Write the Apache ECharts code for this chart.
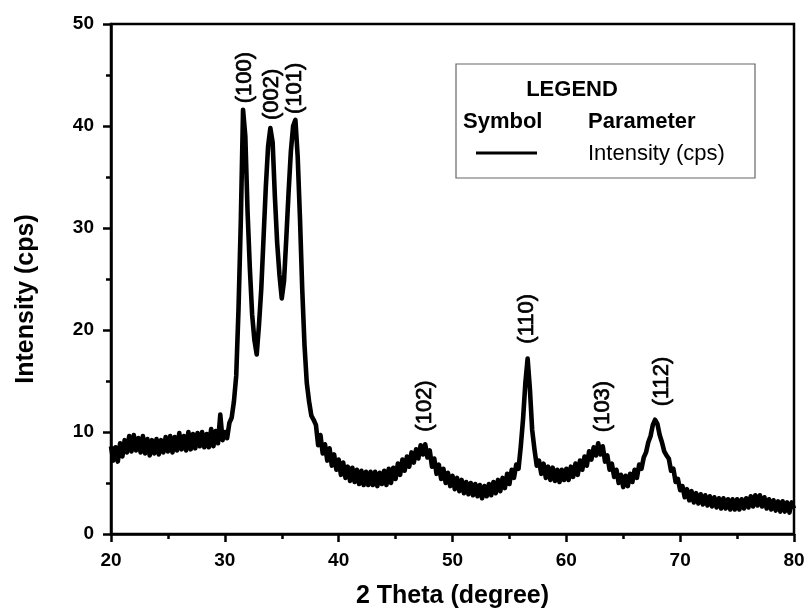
<!DOCTYPE html>
<html>
<head>
<meta charset="utf-8">
<script src="https://cdn.jsdelivr.net/npm/echarts@6/dist/echarts.min.js"></script>
<style>
  html, body { margin: 0; padding: 0; background: #fff; }
  #xrdChart { width: 808px; height: 615px; }
</style>
</head>
<body>
<div id="xrdChart"></div>
<script>
// scan settings: 2theta from 20 to 80 deg, one reading every 0.2 deg
const thetaStart = 20;
const thetaStep = 0.2;

// intensity (cps), one row per degree (x.0 .. x.8)
const intensity = [
  8.6, 7.2, 8.5, 7.1, 8.9,      // 20
  7.6, 9.2, 8.0, 9.6, 8.1,      // 21
  9.7, 8.2, 9.4, 8.0, 9.6,      // 22
  7.9, 9.3, 7.7, 9.2, 7.9,      // 23
  9.3, 7.8, 9.2, 8.0, 9.5,      // 24
  8.1, 9.6, 8.0, 9.5, 8.2,      // 25
  9.9, 8.3, 9.6, 8.2, 10.0,     // 26
  8.3, 9.8, 8.4, 9.9, 8.6,      // 27
  10.0, 8.5, 9.8, 8.5, 10.3,    // 28
  8.6, 10.1, 8.9, 11.7, 9.2,    // 29
  10.0, 9.4, 10.9, 11.4, 13.0,  // 30
  15.5, 22.0, 30.5, 41.6, 39.0, // 31
  31.5, 26.0, 21.5, 19.0, 17.6, // 32
  20.5, 24.0, 29.0, 34.0, 38.0, // 33
  39.8, 38.4, 33.0, 28.5, 25.4, // 34
  23.1, 24.8, 29.0, 33.5, 37.5, // 35
  40.0, 40.6, 37.0, 31.0, 24.0, // 36
  18.5, 14.8, 13.0, 11.6, 11.2, // 37
  10.7, 8.7, 9.7, 7.9, 8.8,     // 38
  7.2, 8.4, 6.7, 7.8, 6.3,      // 39
  7.3, 5.8, 7.0, 5.5, 6.6,      // 40
  5.2, 6.5, 5.1, 6.3, 4.9,      // 41
  6.2, 4.8, 6.1, 4.8, 6.1,      // 42
  4.8, 6.1, 4.7, 6.0, 4.9,      // 43
  6.2, 4.8, 6.4, 5.0, 6.5,      // 44
  5.4, 6.9, 5.8, 7.3, 6.2,      // 45
  7.6, 6.6, 8.0, 7.0, 8.3,      // 46
  7.4, 8.7, 7.8, 8.8, 7.5,      // 47
  8.2, 6.6, 7.4, 5.9, 6.8,      // 48
  5.4, 6.4, 5.0, 6.0, 4.7,      // 49
  5.7, 4.4, 5.5, 4.2, 5.3,      // 50
  4.0, 5.1, 3.9, 5.0, 3.8,      // 51
  4.9, 3.7, 4.8, 3.5, 4.7,      // 52
  3.7, 4.9, 3.8, 5.1, 4.0,      // 53
  5.3, 4.2, 5.5, 4.5, 5.9,      // 54
  4.9, 6.3, 5.5, 6.8, 6.4,      // 55
  8.6, 11.3, 14.8, 17.2, 14.2,  // 56
  10.2, 8.3, 6.7, 7.2, 5.9,     // 57
  6.9, 5.5, 6.6, 5.3, 6.5,      // 58
  5.2, 6.3, 5.1, 6.3, 5.3,      // 59
  6.4, 5.3, 6.6, 5.6, 6.9,      // 60
  5.8, 7.2, 6.3, 7.6, 6.7,      // 61
  8.1, 7.3, 8.5, 7.7, 8.9,      // 62
  7.8, 8.6, 7.1, 7.7, 6.3,      // 63
  6.9, 5.6, 6.3, 5.0, 5.8,      // 64
  4.6, 5.7, 4.7, 5.9, 5.1,      // 65
  6.3, 5.5, 6.8, 6.4, 7.5,      // 66
  8.0, 9.0, 9.6, 10.7, 11.2,    // 67
  10.8, 9.7, 9.0, 8.1, 7.7,     // 68
  7.4, 6.2, 6.4, 5.1, 5.4,      // 69
  4.3, 4.7, 3.6, 4.4, 3.3,      // 70
  4.2, 3.1, 4.0, 3.0, 3.9,      // 71
  2.9, 3.8, 2.8, 3.7, 2.7,      // 72
  3.6, 2.6, 3.5, 2.5, 3.5,      // 73
  2.5, 3.4, 2.4, 3.4, 2.4,      // 74
  3.4, 2.4, 3.4, 2.5, 3.5,      // 75
  2.6, 3.7, 2.7, 3.8, 2.8,      // 76
  3.8, 2.7, 3.6, 2.5, 3.4,      // 77
  2.4, 3.3, 2.3, 3.2, 2.2,      // 78
  3.2, 2.2, 3.1, 2.1, 3.1,      // 79
  2.5                           // 80
];

// peak names and where their labels sit (label centre, in data units)
const peakNames = ['(100)', '(002)', '(101)', '(102)', '(110)', '(103)', '(112)'];
const peakLabelTheta = [31.78, 34.15, 36.17, 47.6, 56.55, 63.2, 68.4];
const peakLabelY = [44.75, 43.1, 43.7, 12.55, 21.1, 12.5, 14.95];

const xTicks = [20, 80, 10];
const yTicks = [0, 50, 10];

const FONT = "'Liberation Sans', Arial, sans-serif";

const lineData = intensity.map((v, i) => [+(thetaStart + i * thetaStep).toFixed(1), v]);
const labelData = peakNames.map((n, i) => ({ name: n, value: [peakLabelTheta[i], peakLabelY[i]] }));

const chart = echarts.init(document.getElementById('xrdChart'));

const axisCommon = {
  axisLine: { show: true, lineStyle: { color: '#000', width: 2.5 } },
  axisTick: { show: true, inside: false, length: 8, lineStyle: { color: '#000', width: 2.5 } },
  minorTick: { show: true, splitNumber: 2, length: 5, lineStyle: { color: '#000', width: 2.5 } },
  splitLine: { show: false },
  axisLabel: { color: '#000', fontFamily: FONT, fontSize: 19, fontWeight: 'bold', margin: 17 },
  nameLocation: 'middle',
  nameTextStyle: { color: '#000', fontFamily: FONT, fontSize: 25, fontWeight: 'bold' }
};

const option = {
  animation: false,
  backgroundColor: '#fff',
  grid: {
    left: 111, right: 14, top: 24, bottom: 81,
    show: true, borderColor: '#000', borderWidth: 2.5, backgroundColor: 'transparent'
  },
  xAxis: Object.assign({}, axisCommon, {
    type: 'value',
    min: xTicks[0], max: xTicks[1], interval: xTicks[2],
    name: '2 Theta (degree)',
    nameGap: 50
  }),
  yAxis: Object.assign({}, axisCommon, {
    type: 'value',
    min: yTicks[0], max: yTicks[1], interval: yTicks[2],
    name: 'Intensity (cps)',
    nameGap: 72,
    nameTextStyle: Object.assign({}, axisCommon.nameTextStyle, { padding: [0, 40, 0, 0] })
  }),
  series: [
    {
      name: 'Intensity (cps)',
      type: 'line',
      data: lineData,
      showSymbol: false,
      symbol: 'none',
      lineStyle: { color: '#000', width: 4.6, join: 'round' },
      z: 3
    },
    {
      name: 'peaks',
      type: 'scatter',
      data: labelData,
      symbolSize: 0,
      itemStyle: { opacity: 0 },
      label: {
        show: true,
        position: 'inside',
        rotate: 90,
        formatter: '{b}',
        color: '#000',
        opacity: 1,
        fontFamily: FONT,
        fontSize: 22,
        textBorderColor: '#000',
        textBorderWidth: 0.7,
        align: 'center',
        verticalAlign: 'middle'
      },
      z: 4
    }
  ],
  graphic: [
    {
      type: 'rect',
      shape: { x: 456, y: 64, width: 299, height: 114 },
      style: { fill: '#fff', stroke: '#666', lineWidth: 1.2 },
      z: 10
    },
    {
      type: 'text', x: 572, y: 90, z: 11,
      style: { text: 'LEGEND', fontFamily: FONT, fontSize: 22, fontWeight: 'bold', fill: '#000', align: 'center', verticalAlign: 'middle' }
    },
    {
      type: 'text', x: 463, y: 122, z: 11,
      style: { text: 'Symbol', fontFamily: FONT, fontSize: 22, fontWeight: 'bold', fill: '#000', align: 'left', verticalAlign: 'middle' }
    },
    {
      type: 'text', x: 588, y: 122, z: 11,
      style: { text: 'Parameter', fontFamily: FONT, fontSize: 22, fontWeight: 'bold', fill: '#000', align: 'left', verticalAlign: 'middle' }
    },
    {
      type: 'line', z: 11,
      shape: { x1: 476, y1: 153, x2: 537, y2: 153 },
      style: { stroke: '#000', lineWidth: 3 }
    },
    {
      type: 'text', x: 588, y: 154, z: 11,
      style: { text: 'Intensity (cps)', fontFamily: FONT, fontSize: 22, fill: '#000', align: 'left', verticalAlign: 'middle' }
    }
  ]
};

chart.setOption(option);
</script>
</body>
</html>
